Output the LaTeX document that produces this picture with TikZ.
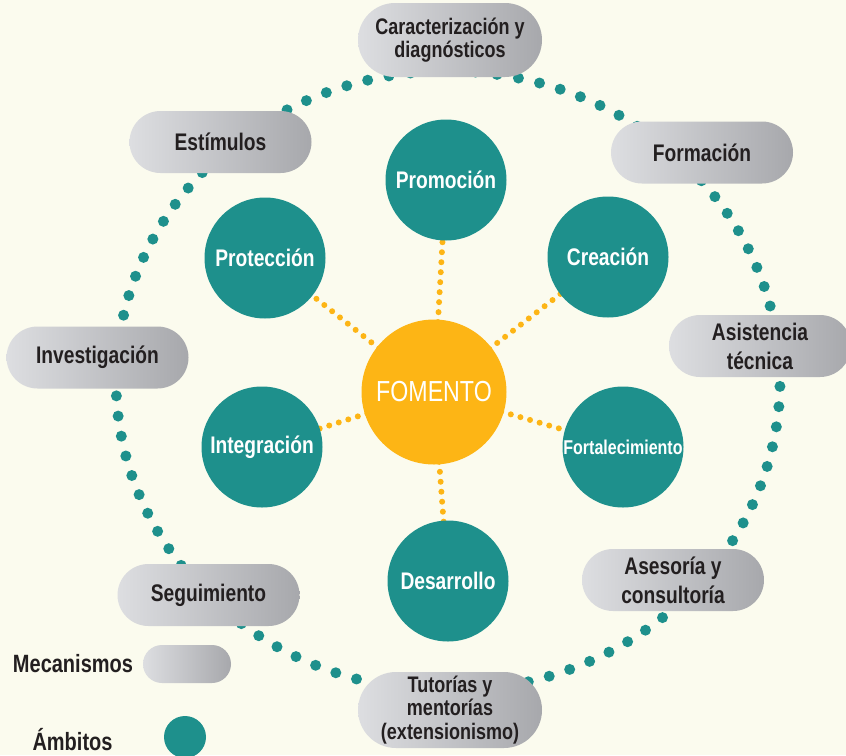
\documentclass[tikz,border=0pt]{standalone}
\usepackage{fontspec}
\setmainfont{Liberation Sans}[FakeStretch=0.8]
\usetikzlibrary{shapes.misc}
\definecolor{bg}{HTML}{FBFBEE}
\definecolor{teal1}{HTML}{1E908C}
\definecolor{gold}{HTML}{FDB515}
\definecolor{ink}{HTML}{231F20}
\definecolor{pillL}{HTML}{DDDEE1}
\definecolor{pillR}{HTML}{A7A8AC}
\pgfdeclarelayer{bgl}
\pgfdeclarelayer{links}
\pgfsetlayers{bgl,links,main}
\begin{document}
\begin{tikzpicture}[x=1pt,y=-1pt,
  pill/.style={rounded rectangle, minimum width=182pt, minimum height=62pt,
    left color=pillL, right color=pillR, draw=none, text=ink,
    font=\fontsize{24}{29}\selectfont\bfseries, align=center, inner sep=0pt},
  smallpill/.style={pill, minimum width=184pt, font=\fontsize{22.5}{23}\selectfont\bfseries},
  amb/.style={circle, fill=teal1, minimum size=121pt, inner sep=0pt,
    text=white, font=\fontsize{24}{25}\selectfont\bfseries},
  link/.style={draw=gold, line width=6pt, line cap=round, dash pattern=on 0pt off 10pt},
  legtext/.style={text=ink, font=\fontsize{25}{26}\selectfont\bfseries, inner sep=0pt}]

\begin{pgfonlayer}{bgl}
  \fill[bg] (0,0) rectangle (846,755);
  \foreach \i in {0,...,95}
    \fill[teal1] ({448+332*cos(3.75*\i+1)},{381+310*sin(3.75*\i+1)}) circle (5.5pt);
\end{pgfonlayer}
\useasboundingbox (0,0) rectangle (846,755);

% centre
\node[circle, fill=gold, minimum size=145pt, inner sep=0pt, text=white,
  font=\fontsize{29}{30}\selectfont] (fom) at (434,392) {FOMENTO};

% ambitos
\node[amb] (prom) at (446,180) {Promoción};
\node[amb] (prot) at (265,258) {Protección};
\node[amb] (crea) at (608,257) {Creación};
\node[amb] (integ) at (262,447) {Integración};
\node[amb, font=\fontsize{20}{21}\selectfont\bfseries] (fort) at (623,447) {Fortalecimiento};
\node[amb] (desa) at (448,581) {Desarrollo};

\begin{pgfonlayer}{links}
  \foreach \t in {prom,prot,crea,integ,fort,desa}
    \draw[link] (fom.center) -- (\t.center);
\end{pgfonlayer}

% mecanismos
\node[smallpill, minimum height=74pt] (carac) at (450,40) {Caracterización y\\diagnósticos};
\node[pill] (estim) at (220.5,142) {Estímulos};
\node[pill] (forma) at (702,152.5) {Formación};
\node[pill] (asist) at (760,346) {Asistencia\\técnica};
\node[pill] (inves) at (97.5,357.5) {Investigación};
\node[pill] (segui) at (208.5,595) {Seguimiento};
\node[pill] (aseso) at (673,580) {Asesoría y\\consultoría};
\node[smallpill, minimum height=76pt, font=\fontsize{22.5}{23.5}\selectfont\bfseries] (tutor) at (450,710) {Tutorías y\\mentorías\\(extensionismo)};

% legend
\node[legtext] (mec) at (73,664) {Mecanismos};
\node[pill, minimum width=88pt, minimum height=38pt] (legp) at (187,664) {};
\node[legtext] (ambt) at (72.5,740) {Ámbitos};
\node[circle, fill=teal1, minimum size=42pt, inner sep=0pt] (legc) at (185,737) {};
\end{tikzpicture}
\end{document}
